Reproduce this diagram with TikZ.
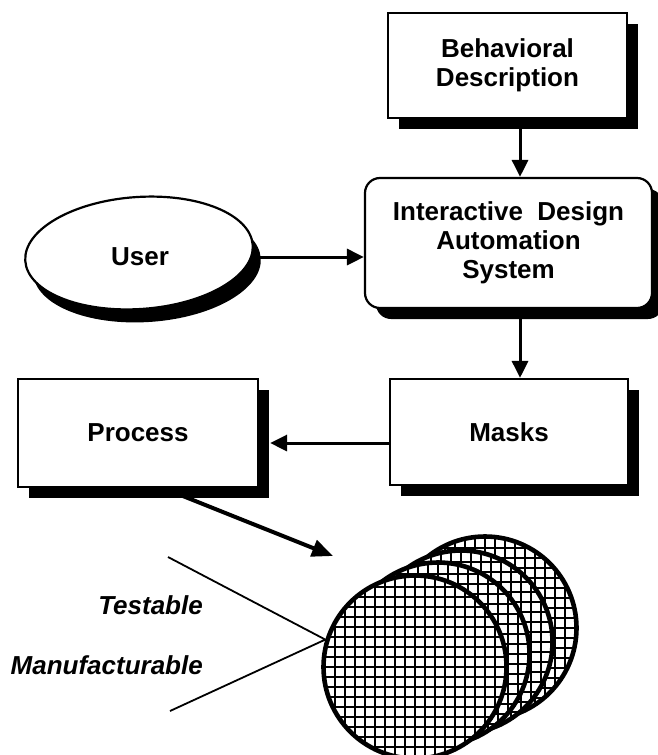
\documentclass[tikz,border=0pt]{standalone}
\usepackage{fontspec}
\setmainfont{Liberation Sans}
\usetikzlibrary{shapes.geometric,arrows.meta,shadows,calc}
\begin{document}
\begin{tikzpicture}[x=1pt,y=-1pt,
  txt/.style={font=\fontsize{26}{29}\selectfont\bfseries, align=center},
  note/.style={font=\fontsize{26}{29}\selectfont\bfseries\itshape, anchor=east, inner sep=0pt},
  boxshadow/.style={drop shadow={shadow xshift=11pt, shadow yshift=-11pt, fill=black, opacity=1}},
  block/.style={draw, line width=2.2pt, fill=white, inner sep=0pt, txt, boxshadow},
  flow/.style={line width=3pt, -{Triangle[length=17pt,width=16pt]}},
  bigflow/.style={line width=4pt, -{Triangle[length=21pt,width=17pt]}},
  gridline/.style={line width=1.2pt},
  wafer/.style={circle, draw, line width=4.6pt, fill=white, inner sep=0pt,
    minimum size=183pt,
    path picture={
      \foreach \k in {-10,...,10}{
        \draw[gridline] ([xshift=\k*10pt, yshift=-100pt]path picture bounding box.center) -- ++(0pt,200pt);
        \draw[gridline] ([xshift=-100pt, yshift=\k*10pt]path picture bounding box.center) -- ++(200pt,0pt);
      }
    }},
]
\useasboundingbox (0,0) rectangle (657,755);

% blocks
\node[block, minimum width=239pt, minimum height=105pt] (behav) at (507.5,65.5)
  {Behavioral\\Description};
\node[block, rounded corners=15pt, minimum width=287pt, minimum height=130pt] (idas) at (508.5,243)
  {Interactive\ \ Design\\Automation\\System};
\node[block, minimum width=238pt, minimum height=106pt] (masks) at (509,432) {Masks};
\node[block, minimum width=240pt, minimum height=108pt] (process) at (138,433) {Process};

% user ellipse
\node[draw, ellipse, line width=2.2pt, fill=white, minimum width=228pt, minimum height=112pt,
  rotate=4, drop shadow={shadow xshift=8pt, shadow yshift=-13pt, fill=black, opacity=1}]
  (user) at (139,253) {};
\node[txt] (usertext) at (140,257) {User};

% connectors
\coordinate (col) at (520,0);
\coordinate (uy) at (0,257);
\coordinate (my) at (0,443);
\draw[flow] (behav.south -| col) -- (idas.north -| col);
\draw[flow] (user.east |- uy) -- (idas.west |- uy);
\draw[flow] (idas.south -| col) -- (masks.north -| col);
\draw[flow] (masks.west |- my) -- ([xshift=11pt]process.east |- my);

% wafers, back to front
\node[wafer] (w4) at (485,628) {};
\node[wafer] (w3) at (461,642) {};
\node[wafer] (w2) at (438,654) {};
\node[wafer] (w1) at (415,667) {};

\coordinate (wtip) at (333,556);
\draw[bigflow] ([xshift=25pt]process.south) -- (wtip);

% properties
\coordinate (vtop) at (168,557);
\coordinate (vbot) at (170,711);
\draw[line width=1.8pt] (vtop) -- (w1.163) -- (vbot);
\node[note] (testable) at (203,605) {Testable};
\node[note] (manuf) at (203,665) {Manufacturable};
\end{tikzpicture}
\end{document}
